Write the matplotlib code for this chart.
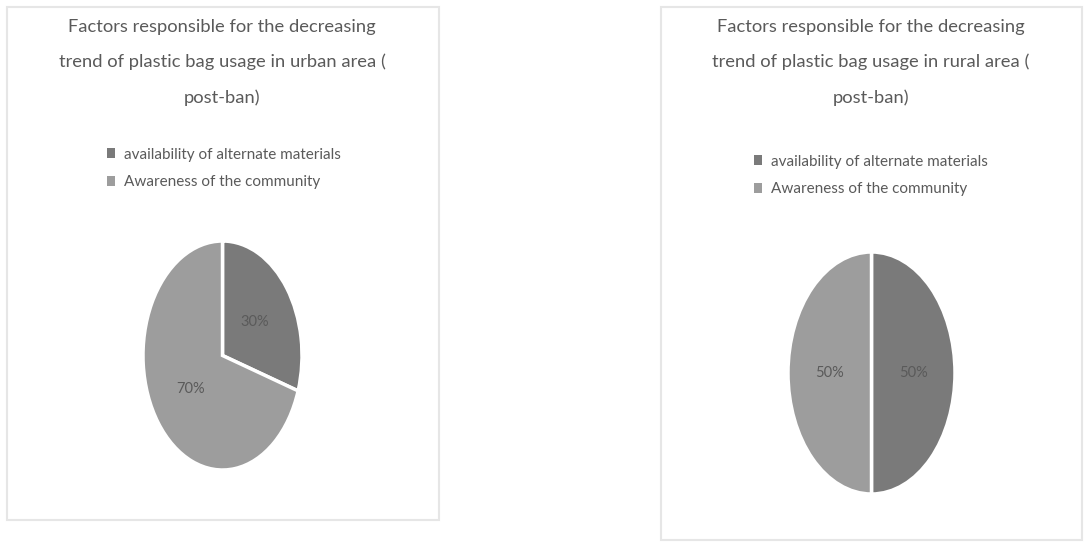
import matplotlib
matplotlib.use("Agg")
import matplotlib.pyplot as plt
from matplotlib.patches import Rectangle, Patch

# Datos de las dos tortas
categorias = ["availability of alternate materials", "Awareness of the community"]
urbano = [30, 70]
rural = [50, 50]
titulo_urbano = "Factors responsible for the decreasing\ntrend of plastic bag usage in urban area (\npost-ban)"
titulo_rural = "Factors responsible for the decreasing\ntrend of plastic bag usage in rural area (\npost-ban)"

colores = ["#7a7a7a", "#9d9d9d"]
gris_texto = "#5a5a5a"
fuente = ["Lato", "DejaVu Sans"]

W, H = 1086, 542
fig = plt.figure(figsize=(W / 100, H / 100), dpi=100)
fig.patch.set_facecolor("white")


def fx(px):
    return px / W


def fy(py):
    return 1 - py / H


# Marcos de cada panel
for x0, y0, x1, y1 in [(7, 7, 439, 520), (661, 7, 1082, 540)]:
    fig.patches.append(Rectangle((fx(x0), fy(y1)), fx(x1 - x0), (y1 - y0) / H,
                                 transform=fig.transFigure, fill=False,
                                 edgecolor="#e6e6e6", linewidth=1.5))


def dibujar(valores, titulo, caja, cx, ley):
    x0, y0, x1, y1 = caja
    ax = fig.add_axes([fx(x0), fy(y1), fx(x1 - x0), (y1 - y0) / H])
    ax.pie(valores, colors=colores, startangle=90, counterclock=False,
           autopct="%1.0f%%", pctdistance=0.5,
           wedgeprops=dict(edgecolor="white", linewidth=2.5),
           textprops=dict(color=gris_texto, fontsize=10.5, family=fuente))
    ax.set_aspect("auto")
    ax.set_xlim(-1, 1)
    ax.set_ylim(-1, 1)

    fig.text(fx(cx), fy(19), titulo, ha="center", va="top", fontsize=13.2,
             color=gris_texto, family=fuente, linespacing=2.38)

    handles = [Patch(facecolor=c, edgecolor="none") for c in colores]
    fig.legend(handles, categorias, loc="upper left",
               bbox_to_anchor=(fx(ley[0]), fy(ley[1])),
               frameon=False, handlelength=0.55, handleheight=0.6,
               handletextpad=0.6, labelspacing=0.9, borderpad=0,
               prop=dict(family=fuente, size=11), labelcolor=gris_texto)


dibujar(urbano, titulo_urbano, (143, 241, 302, 470), 222, (99, 140))
dibujar(rural, titulo_rural, (788, 252, 955, 494), 871, (746, 147))

fig.savefig("out.png", dpi=100, facecolor="white")
